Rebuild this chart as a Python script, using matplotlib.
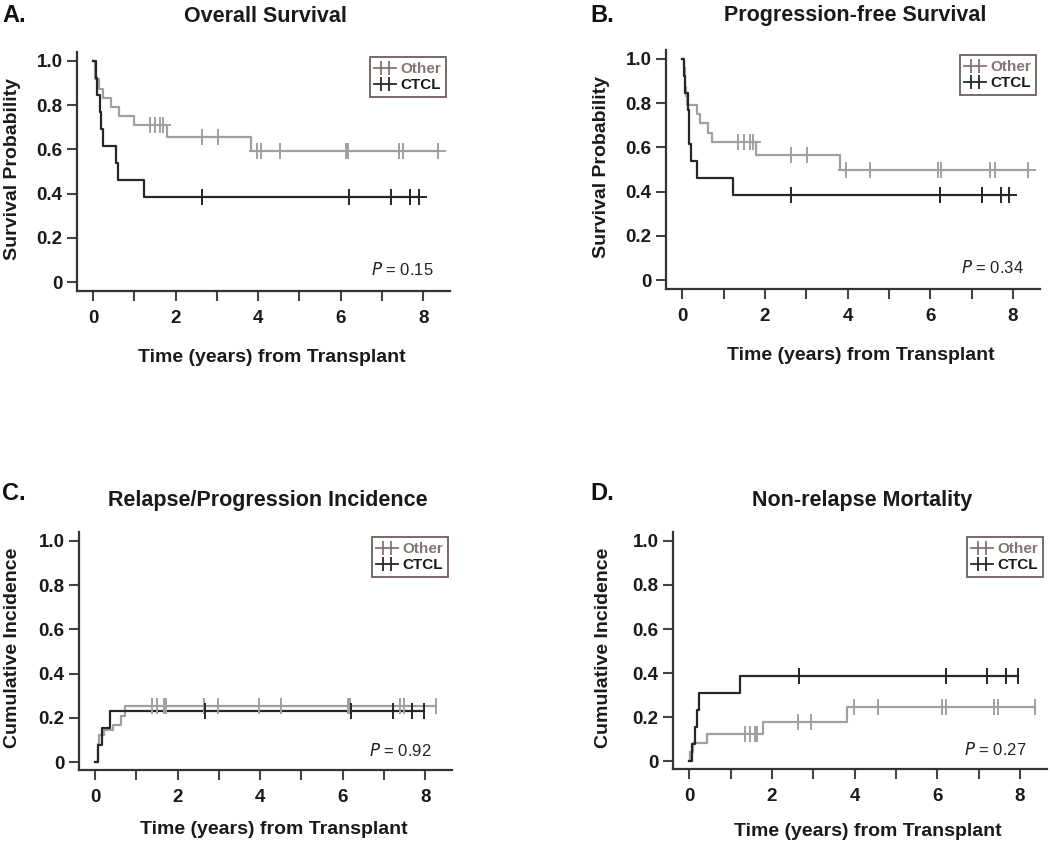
import numpy as np
import matplotlib
matplotlib.use('Agg')
import matplotlib.pyplot as plt
from matplotlib.lines import Line2D
from matplotlib.legend_handler import HandlerBase

plt.rcParams['font.family'] = ['Liberation Sans', 'DejaVu Sans']

# ---- data (step times in years, step values) ----
# A. Overall survival
os_other_t = [0, 0.05, 0.14, 0.25, 0.44, 0.63, 0.98, 1.79, 3.83]
os_other_v = [1.0, 0.917, 0.875, 0.833, 0.792, 0.75, 0.708, 0.658, 0.592]
os_other_cens = [1.37, 1.49, 1.61, 1.69, 2.65, 3.02, 3.98, 4.07, 4.52, 6.13, 6.19, 7.42, 7.5, 8.35]
os_ctcl_t = [0, 0.06, 0.1, 0.16, 0.2, 0.23, 0.56, 0.6, 1.23]
os_ctcl_v = [1.0, 0.923, 0.846, 0.769, 0.692, 0.615, 0.538, 0.462, 0.385]
os_ctcl_cens = [2.65, 6.21, 7.22, 7.68, 7.9]

# B. Progression-free survival
pfs_other_t = [0, 0.04, 0.06, 0.08, 0.09, 0.11, 0.35, 0.43, 0.63, 0.71, 1.78, 3.82]
pfs_other_v = [1.0, 0.958, 0.917, 0.875, 0.833, 0.792, 0.75, 0.708, 0.667, 0.625, 0.566, 0.5]
pfs_other_cens = [1.36, 1.5, 1.65, 1.71, 2.64, 3.03, 3.96, 4.53, 6.19, 6.25, 7.44, 7.57, 8.35]
pfs_ctcl_t = [0, 0.05, 0.07, 0.14, 0.16, 0.17, 0.21, 0.36, 1.24]
pfs_ctcl_v = [1.0, 0.923, 0.846, 0.769, 0.692, 0.615, 0.538, 0.462, 0.385]
pfs_ctcl_cens = [2.64, 6.24, 7.24, 7.71, 7.9]

# C. Relapse/progression incidence
rel_other_t = [0, 0.06, 0.1, 0.22, 0.43, 0.62, 0.73]
rel_other_v = [0, 0.083, 0.125, 0.146, 0.167, 0.208, 0.255]
rel_other_cens = [1.37, 1.51, 1.66, 1.72, 2.64, 2.97, 3.98, 4.51, 6.12, 6.17, 7.4, 7.48, 8.27]
rel_ctcl_t = [0, 0.07, 0.16, 0.37]
rel_ctcl_v = [0, 0.077, 0.154, 0.231]
rel_ctcl_cens = [2.67, 6.2, 7.21, 7.68, 7.96]

# D. Non-relapse mortality
nrm_other_t = [0, 0.03, 0.1, 0.43, 1.79, 3.82]
nrm_other_v = [0, 0.042, 0.083, 0.125, 0.178, 0.247]
nrm_other_cens = [1.34, 1.47, 1.6, 1.64, 2.62, 2.95, 3.98, 4.57, 6.12, 6.2, 7.38, 7.46, 8.35]
nrm_ctcl_t = [0, 0.07, 0.13, 0.18, 0.24, 1.23]
nrm_ctcl_v = [0, 0.077, 0.154, 0.231, 0.308, 0.385]
nrm_ctcl_cens = [2.65, 6.2, 7.2, 7.67, 7.95]

p_values = ['0.15', '0.34', '0.92', '0.27']
panel_letters = ['A.', 'B.', 'C.', 'D.']
titles = ['Overall Survival', 'Progression-free Survival',
          'Relapse/Progression Incidence', 'Non-relapse Mortality']
ylabels = ['Survival Probability', 'Survival Probability',
           'Cumulative Incidence', 'Cumulative Incidence']

GRAY = '#a0a0a0'
DARK = '#262626'
TAUPE = '#85746f'

panels = [
    ((os_other_t, os_other_v, os_other_cens), (os_ctcl_t, os_ctcl_v, os_ctcl_cens)),
    ((pfs_other_t, pfs_other_v, pfs_other_cens), (pfs_ctcl_t, pfs_ctcl_v, pfs_ctcl_cens)),
    ((rel_other_t, rel_other_v, rel_other_cens), (rel_ctcl_t, rel_ctcl_v, rel_ctcl_cens)),
    ((nrm_other_t, nrm_other_v, nrm_other_cens), (nrm_ctcl_t, nrm_ctcl_v, nrm_ctcl_cens)),
]


class CensorHandler(HandlerBase):
    # legend key: short line with two censor ticks near its middle
    def create_artists(self, legend, orig_handle, xdescent, ydescent, width, height,
                       fontsize, trans):
        y = (height - ydescent) / 2
        x0, x1 = -xdescent, -xdescent + width
        mid = (x0 + x1) / 2
        line = Line2D([x0, x1], [y, y], color=orig_handle.get_color(),
                      lw=orig_handle.get_linewidth())
        marks = Line2D([mid - 0.25 * fontsize, mid + 0.25 * fontsize], [y, y], ls='none',
                       marker='|', ms=orig_handle.get_markersize(),
                       mew=orig_handle.get_markeredgewidth(), color=orig_handle.get_color())
        line.set_transform(trans)
        marks.set_transform(trans)
        return [line, marks]


W, H = 1050, 848
fig = plt.figure(figsize=(W / 100, H / 100), dpi=100)

# axes boxes in pixels: left, right, top, bottom
boxes = [(77, 450, 52, 291), (666, 1040, 50, 289),
         (79, 452, 532, 770), (673, 1047, 532, 769)]
letter_y = [15, 15, 493, 493]
title_y = [16, 16, 500, 500]
xlabel_off = [67, 67, 60, 62]
ylabel_x = [13, 601, 13, 604]
censor_markers = ['+', '+', '|', '|']


def draw_curve(ax, t, v, cens, color, marker):
    end = max(max(cens), t[-1])
    xs = list(t) + [end]
    ys = list(v) + [v[-1]]
    ax.plot(xs, ys, drawstyle='steps-post', color=color, lw=1.6, zorder=3)
    idx = np.searchsorted(t, cens, side='right') - 1
    cy = np.array(v)[idx]
    ax.plot(cens, cy, ls='none', marker=marker, ms=12, mew=1.4, color=color, zorder=4)


for i, (box, (other, ctcl)) in enumerate(zip(boxes, panels)):
    l, r, t, b = box
    ax = fig.add_axes([l / W, 1 - b / H, (r - l) / W, (b - t) / H])
    draw_curve(ax, *other, GRAY, censor_markers[i])
    draw_curve(ax, *ctcl, DARK, censor_markers[i])

    ax.set_xlim(-0.39, 8.65)
    ax.set_ylim(-0.035 if i >= 2 else -0.04, 1.04)
    ax.set_xticks([0, 2, 4, 6, 8])
    ax.set_xticks([1, 3, 5, 7], minor=True)
    ax.set_yticks([0, 0.2, 0.4, 0.6, 0.8, 1.0])
    ax.set_yticklabels(['0', '0.2', '0.4', '0.6', '0.8', '1.0'])
    for s in ['top', 'right']:
        ax.spines[s].set_visible(False)
    for s in ['left', 'bottom']:
        ax.spines[s].set_linewidth(1.6)
        ax.spines[s].set_color('#333333')
    ax.tick_params(which='both', direction='out', length=7.5, width=1.5, color='#444444')
    ax.tick_params(axis='y', labelsize=13.5, pad=3)
    ax.tick_params(axis='x', labelsize=13.5, pad=6)
    for lab in ax.get_xticklabels() + ax.get_yticklabels():
        lab.set_fontweight('bold')
        lab.set_color('#1a1a1a')

    ax.text(8.25 if i < 2 else 8.15, 0.055, r'$\it{P}$ = ' + p_values[i],
            ha='right', va='center', fontsize=12, color='#222222')

    handles = [Line2D([], [], color=TAUPE, lw=1.3, marker='|', ms=10, mew=1.3),
               Line2D([], [], color=DARK, lw=1.3, marker='|', ms=10, mew=1.3)]
    leg = ax.legend(handles, ['Other', 'CTCL'], loc='upper right',
                    bbox_to_anchor=(0.988, 0.977), handlelength=1.4,
                    handletextpad=0.3, borderpad=0.3, labelspacing=0.15,
                    borderaxespad=0, fancybox=False, framealpha=1,
                    prop={'weight': 'bold', 'size': 11},
                    handler_map={Line2D: CensorHandler()})
    leg.get_frame().set_edgecolor('#6e5e5e')
    leg.get_frame().set_linewidth(1.3)
    leg.get_texts()[0].set_color(TAUPE)
    leg.get_texts()[1].set_color('#1a1a1a')

    cx = (l + r) / 2 + 8
    fig.text(cx / W, 1 - (b + xlabel_off[i]) / H, 'Time (years) from Transplant',
             ha='center', va='center', fontsize=14, fontweight='bold', color='#1a1a1a')
    fig.text(ylabel_x[i] / W, 1 - ((t + b) / 2 - 3) / H, ylabels[i], rotation=90,
             ha='center', va='center', fontsize=14, fontweight='bold', color='#1a1a1a')

    lx = 2 if i % 2 == 0 else 590
    fig.text(lx / W, 1 - letter_y[i] / H, panel_letters[i], ha='left', va='center',
             fontsize=17, fontweight='bold', color='#111111')
    fig.text(((l + r) / 2 + 2) / W, 1 - title_y[i] / H, titles[i], ha='center', va='center',
             fontsize=15.5, fontweight='bold', color='#1a1a1a')

fig.savefig('out.png', dpi=100)
